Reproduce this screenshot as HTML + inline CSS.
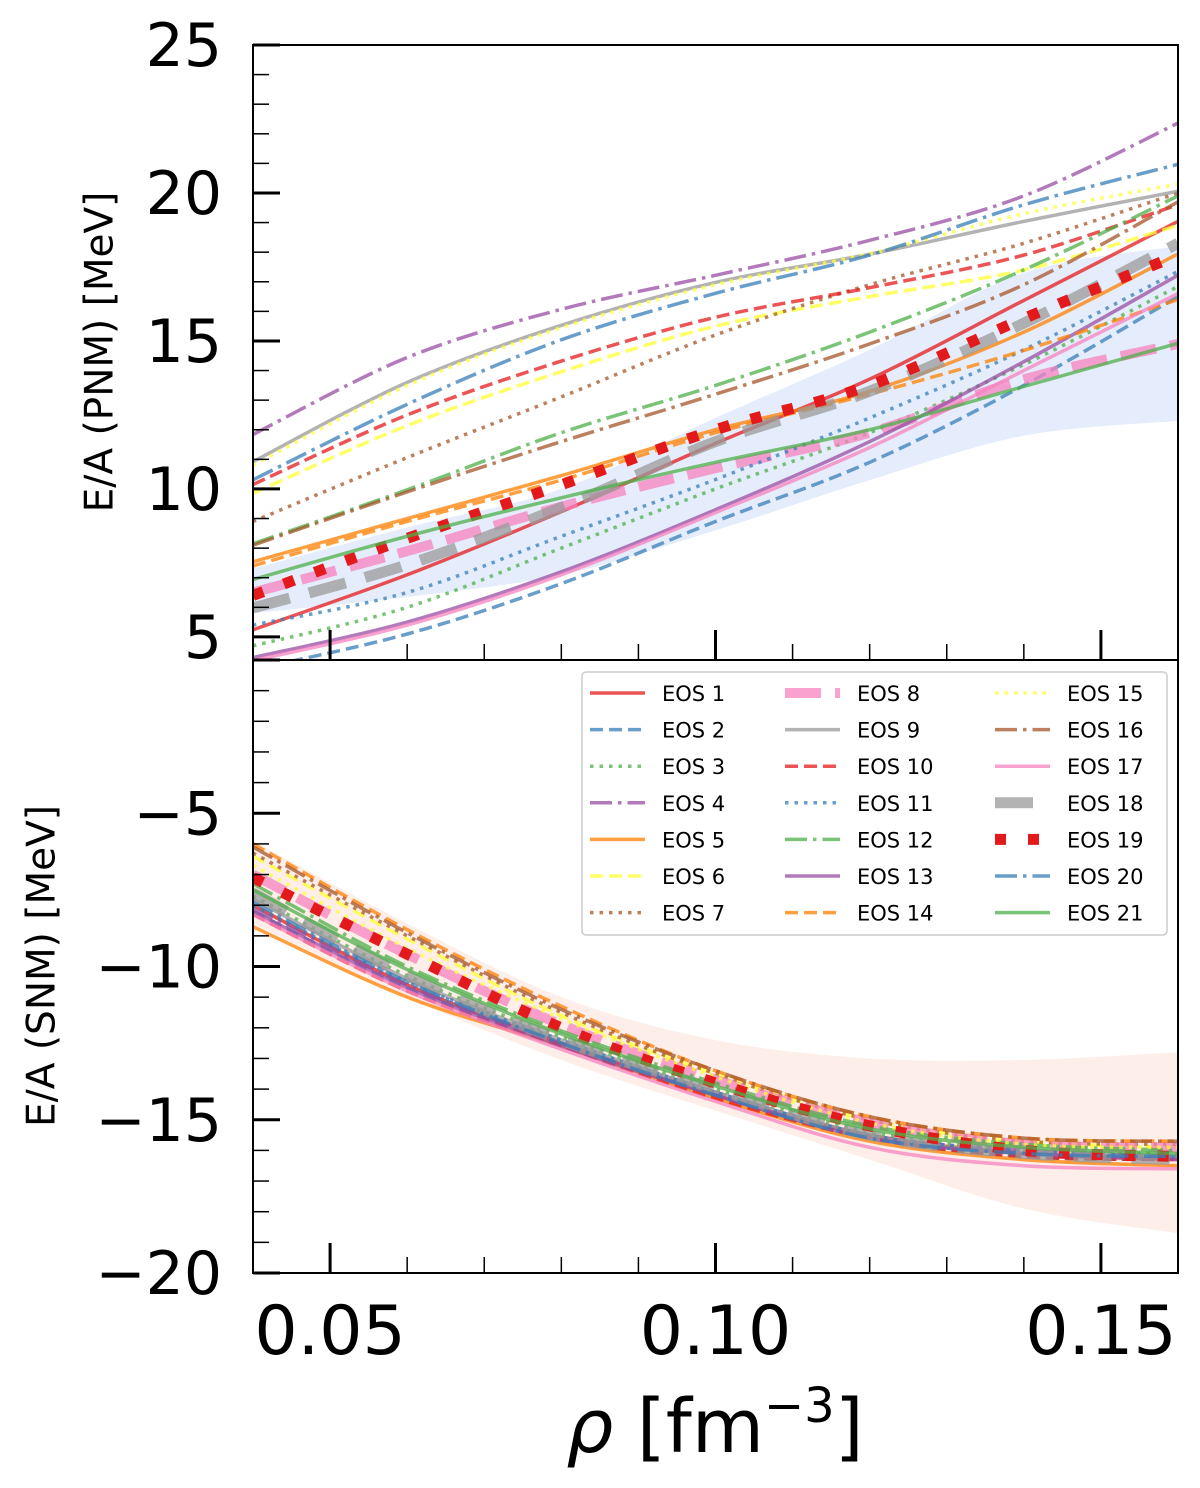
<!DOCTYPE html>
<html><head><meta charset="utf-8"><style>
html,body{margin:0;padding:0;background:#fff;}
svg{display:block;font-family:"DejaVu Sans","Liberation Sans",sans-serif;}
</style></head><body>
<svg id="chart" width="1200" height="1488" viewBox="0 0 1200 1488" xmlns="http://www.w3.org/2000/svg">
<defs>
<clipPath id="clipTop"><rect x="253" y="45" width="925" height="615"/></clipPath>
<clipPath id="clipBot"><rect x="253" y="660" width="925" height="613"/></clipPath>
</defs>
<g id="topBand" clip-path="url(#clipTop)"></g>
<g id="topLines" clip-path="url(#clipTop)"></g>
<g id="botBand" clip-path="url(#clipBot)"></g>
<g id="botLines" clip-path="url(#clipBot)"></g>
<g id="axes"></g>
<rect x="253" y="45" width="925" height="615" fill="none" stroke="#000" stroke-width="2"/>
<rect x="253" y="660" width="925" height="613" fill="none" stroke="#000" stroke-width="2"/>
<text x="102" y="352" font-size="39" text-anchor="middle" transform="rotate(-90 102 352)" dominant-baseline="middle">E/A (PNM) [MeV]</text>
<text x="44" y="966" font-size="39" text-anchor="middle" transform="rotate(-90 44 966)" dominant-baseline="middle">E/A (SNM) [MeV]</text>
<text x="715" y="1452" font-size="74" text-anchor="middle"><tspan font-style="italic">ρ</tspan> [fm<tspan font-size="48" dy="-30">−3</tspan><tspan dy="30">]</tspan></text>
<g id="legend"></g>
</svg>
<script>
const densities = [0.04, 0.06, 0.08, 0.10, 0.12, 0.14, 0.16];
const seriesNames = ["EOS 1","EOS 2","EOS 3","EOS 4","EOS 5","EOS 6","EOS 7","EOS 8","EOS 9","EOS 10","EOS 11","EOS 12","EOS 13","EOS 14","EOS 15","EOS 16","EOS 17","EOS 18","EOS 19","EOS 20","EOS 21"];
const pnmValues = [
 [5.24,7.1,9.23,11.54,13.71,16.37,19.04],
 [3.9,5.1,6.8,8.9,10.9,13.5,16.5],
 [4.7,6.0,8.0,10.0,11.9,14.2,16.84],
 [11.84,14.44,16.07,17.22,18.4,19.9,22.36],
 [7.54,9.0,10.45,12.0,13.3,15.3,17.94],
 [9.85,12.14,13.96,15.5,16.5,17.4,18.9],
 [8.9,11.06,13.11,15.2,16.9,18.3,20.0],
 [6.5,7.9,9.4,10.7,11.9,13.7,14.9],
 [10.92,13.6,15.53,16.98,17.93,19.04,20.06],
 [10.15,12.5,14.32,15.8,16.8,17.9,19.6],
 [5.4,6.5,8.4,10.32,12.4,14.7,17.35],
 [8.15,9.97,11.9,13.5,15.3,17.4,19.9],
 [4.3,5.5,7.2,9.3,11.6,14.3,17.22],
 [7.4,8.9,10.3,11.9,13.2,14.68,16.4],
 [10.8,13.5,15.45,16.9,17.95,19.3,20.3],
 [8.1,9.9,11.6,13.2,14.9,16.9,19.7],
 [4.2,5.4,7.1,9.2,11.4,14.0,16.6],
 [5.98,7.44,9.37,11.6,13.3,15.6,18.3],
 [6.4,8.33,10.14,12.0,13.5,15.76,17.9],
 [10.31,12.86,15.04,16.61,17.9,19.6,20.97],
 [6.94,8.4,9.7,10.9,12.0,13.46,14.92]
];
const snmValues = [
 [-8.0,-10.6,-12.5,-14.2,-15.5,-16.1,-16.3],
 [-8.2,-10.7,-12.5,-14.2,-15.6,-16.2,-16.3],
 [-7.7,-10.3,-12.3,-14.0,-15.4,-16.0,-16.1],
 [-8.1,-10.6,-12.5,-14.1,-15.5,-16.0,-16.2],
 [-8.7,-11.0,-12.6,-14.3,-15.7,-16.3,-16.5],
 [-6.4,-9.1,-11.6,-13.5,-15.0,-15.7,-15.9],
 [-6.3,-9.0,-11.5,-13.5,-15.0,-15.7,-15.8],
 [-7.0,-9.6,-11.9,-13.7,-15.1,-15.8,-15.9],
 [-7.8,-10.4,-12.4,-14.1,-15.5,-16.1,-16.2],
 [-8.3,-10.8,-12.6,-14.3,-15.6,-16.2,-16.3],
 [-8.0,-10.5,-12.4,-14.1,-15.5,-16.0,-16.2],
 [-7.3,-10.0,-12.1,-13.8,-15.2,-15.8,-16.0],
 [-8.2,-10.7,-12.6,-14.2,-15.6,-16.1,-16.3],
 [-6.0,-8.8,-11.3,-13.4,-14.9,-15.6,-15.7],
 [-6.7,-9.4,-11.7,-13.6,-15.1,-15.8,-15.9],
 [-6.1,-8.9,-11.4,-13.4,-14.9,-15.6,-15.7],
 [-8.3,-10.8,-12.7,-14.4,-15.9,-16.5,-16.6],
 [-7.6,-10.3,-12.4,-14.0,-15.5,-16.1,-16.3],
 [-7.1,-9.6,-12.0,-13.8,-15.2,-16.0,-16.2],
 [-7.9,-10.5,-12.5,-14.2,-15.6,-16.1,-16.2],
 [-7.5,-10.1,-12.2,-13.9,-15.3,-15.9,-16.1]
];
const pnmBandUpper = [7.3,8.7,10.0,12.4,14.7,17.3,18.2];
const pnmBandLower = [5.8,6.35,7.1,8.6,10.3,11.8,12.3];
const snmBandUpper = [-5.9,-8.6,-11.0,-12.4,-13.0,-13.05,-12.8];
const snmBandLower = [-8.6,-11.0,-13.05,-14.7,-16.3,-17.9,-18.7];
const pnmTicks = [5,10,15,20,25];
const snmTicks = [-20,-15,-10,-5];
const xTicks = [0.05,0.10,0.15];
const xTickLabels = ["0.05","0.10","0.15"];

const NS = "http://www.w3.org/2000/svg";
const X0=253, X1=1178;
function xs(v){ return X0 + (v-0.04)/(0.12)*(X1-X0); }
function yTop(v){ return 660 - (v-4.22)/(25-4.22)*615; }
function yBot(v){ return 1273 - (v+20)/20*613; }
function mk(tag, attrs, parent){ const e=document.createElementNS(NS,tag); for(const k in attrs) e.setAttribute(k,attrs[k]); parent.appendChild(e); return e; }
function curve(pts){
  let d="M"+pts[0][0].toFixed(1)+","+pts[0][1].toFixed(1);
  for(let i=0;i<pts.length-1;i++){
    const p0=pts[Math.max(0,i-1)], p1=pts[i], p2=pts[i+1], p3=pts[Math.min(pts.length-1,i+2)];
    const c1=[p1[0]+(p2[0]-p0[0])/6, p1[1]+(p2[1]-p0[1])/6];
    const c2=[p2[0]-(p3[0]-p1[0])/6, p2[1]-(p3[1]-p1[1])/6];
    d+="C"+c1[0].toFixed(1)+","+c1[1].toFixed(1)+" "+c2[0].toFixed(1)+","+c2[1].toFixed(1)+" "+p2[0].toFixed(1)+","+p2[1].toFixed(1);
  }
  return d;
}
const C={red:"#e41a1c",blue:"#377eb8",green:"#4daf4a",purple:"#984ea3",orange:"#ff7f00",yellow:"#ffff33",brown:"#a65628",pink:"#f781bf",gray:"#999999"};
const D="13,6", DOT="3.5,6", DD="22,6,3.5,6";
const styles=[
 {c:C.red,w:3.5,d:null},{c:C.blue,w:3.5,d:D},{c:C.green,w:3.5,d:DOT},{c:C.purple,w:3.5,d:DD},
 {c:C.orange,w:3.5,d:null},{c:C.yellow,w:3.5,d:D},{c:C.brown,w:3.5,d:DOT},{c:C.pink,w:10,d:"36,14"},
 {c:C.gray,w:3.5,d:null},{c:C.red,w:3.5,d:D},{c:C.blue,w:3.5,d:DOT},{c:C.green,w:3.5,d:DD},
 {c:C.purple,w:3.5,d:null},{c:C.orange,w:3.5,d:D},{c:C.yellow,w:3.5,d:DOT},{c:C.brown,w:3.5,d:DD},
 {c:C.pink,w:3.5,d:null},{c:C.gray,w:11,d:"38,20"},{c:"#e31a1c",w:11,d:"11,22",op:1},{c:C.blue,w:3.5,d:DD},
 {c:C.green,w:3.5,d:null}
];
function band(up, lo, yf, g, fill, name){
  const top=densities.map((x,i)=>[xs(x),yf(up[i])]);
  const bot=densities.map((x,i)=>[xs(x),yf(lo[i])]).reverse();
  const d=curve(top)+"L"+curve(bot).slice(1)+"Z";
  const p=mk("path",{d:d,fill:fill,stroke:"none"},g);
  
  
}
band(pnmBandUpper,pnmBandLower,yTop,document.getElementById("topBand"),"#e5edfc","pnm-uncertainty-band");
band(snmBandUpper,snmBandLower,yBot,document.getElementById("botBand"),"#fdeee9","snm-uncertainty-band");
function lines(vals, yf, g, prefix){
  vals.forEach((s,k)=>{
    const st=styles[k];
    const pts=densities.map((x,i)=>[xs(x),yf(s[i])]);
    const a={d:curve(pts),fill:"none",stroke:st.c,"stroke-width":st.w,"stroke-opacity":st.op||0.75};
    if(st.d) a["stroke-dasharray"]=st.d;
    const p=mk("path",a,g);
    
    
  });
}
lines(pnmValues,yTop,document.getElementById("topLines"),"pnm-line");
lines(snmValues,yBot,document.getElementById("botLines"),"snm-line");

const ax=document.getElementById("axes");
function tick(x1,y1,x2,y2,w){ const t=mk("line",{x1:x1,y1:y1,x2:x2,y2:y2,stroke:"#000","stroke-width":w},ax);   }
for(let v=5;v<=25;v++){ const y=yTop(v); tick(X0,y,X0+((v%5===0)?27:16),y,(v%5===0)?3:1.5); }
for(let v=-20;v<=0;v++){ const y=yBot(v); tick(X0,y,X0+((v%5===0)?27:16),y,(v%5===0)?3:1.5); }
for(let i=4;i<=16;i++){
  const x=xs(i/100), major=(i%5===0);
  tick(x,660,x,660-(major?30:16),major?3:1.5);
  tick(x,1273,x,1273-(major?30:16),major?3:1.5);
}
pnmTicks.forEach(v=>{ const t=mk("text",{x:222,y:yTop(v)+21,"font-size":60,"text-anchor":"end"},ax); t.textContent=String(v);
   });
snmTicks.forEach(v=>{ const t=mk("text",{x:222,y:yBot(v)+21,"font-size":60,"text-anchor":"end"},ax); t.textContent="−"+Math.abs(v);
   });
xTicks.forEach((v,i)=>{ const t=mk("text",{x:xs(v),y:1354,"font-size":68,"text-anchor":"middle"},ax); t.textContent=xTickLabels[i];
   });

const lg=document.getElementById("legend");
const box=mk("rect",{x:582,y:672,width:585,height:263,rx:4,fill:"#fff","fill-opacity":0.85,stroke:"#ccc","stroke-width":1.5},lg);
 
const colX=[590,785,995];
seriesNames.forEach((n,k)=>{
  const col=Math.floor(k/7), row=k%7, y=693+row*36.6, st=styles[k];
  const a={x1:colX[col],y1:y,x2:colX[col]+55,y2:y,stroke:st.c,"stroke-width":st.w,"stroke-opacity":st.op||0.75};
  if(st.d) a["stroke-dasharray"]= k===7?"36,14":k===17?"38,20":k===18?"11,22":st.d;
  const l=mk("line",a,lg);
  
  
  const t=mk("text",{x:colX[col]+72,y:y+8,"font-size":21},lg);
  t.textContent=n;
  
  
});
</script>
</body></html>
